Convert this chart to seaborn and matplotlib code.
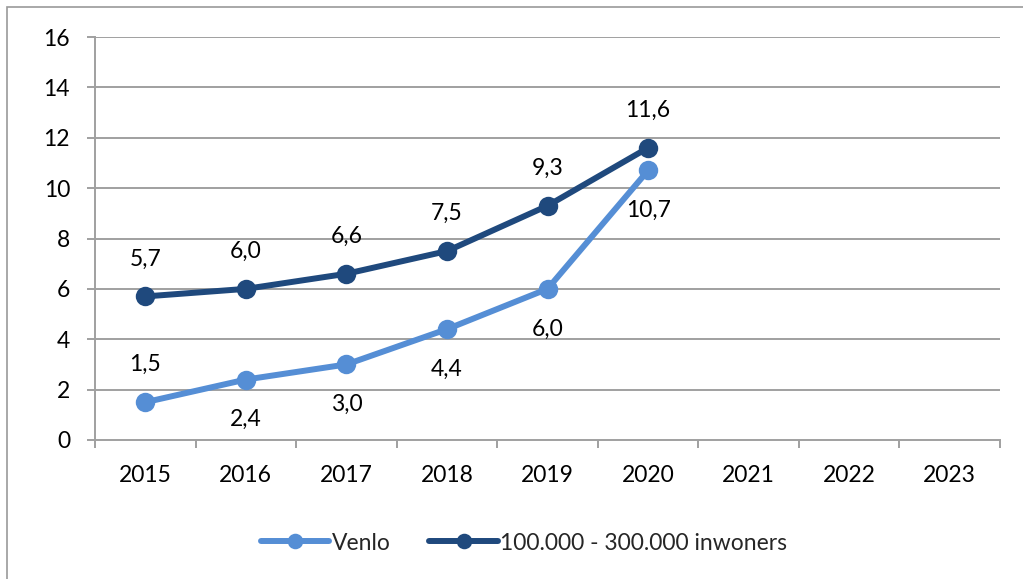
import matplotlib
matplotlib.use("Agg")
import matplotlib.pyplot as plt
import matplotlib.patches as mpatches
import seaborn as sns
import pandas as pd

years = ["2015", "2016", "2017", "2018", "2019", "2020", "2021", "2022", "2023"]
venlo = [1.5, 2.4, 3.0, 4.4, 6.0, 10.7]
middelgroot = [5.7, 6.0, 6.6, 7.5, 9.3, 11.6]
series_names = ["Venlo", "100.000 - 300.000 inwoners"]
# label placement per point: +1 above, -1 below
venlo_label_side = [1, -1, -1, -1, -1, -1]
middelgroot_label_side = [1, 1, 1, 1, 1, 1]
y_ticks = [0, 2, 4, 6, 8, 10, 12, 14, 16]

light_blue = "#558ED5"
dark_blue = "#1F497D"
grid_grey = "#A0A0A0"
FS = 16.5

sns.set_theme(style="white")
plt.rcParams["font.family"] = ["Lato", "DejaVu Sans"]

fig = plt.figure(figsize=(10.23, 5.79), dpi=100)
ax = fig.add_axes([95 / 1023, 1 - 440 / 579, 905 / 1023, 403 / 579])

df = pd.concat([
    pd.DataFrame({"pos": range(len(venlo)), "value": venlo, "serie": series_names[0]}),
    pd.DataFrame({"pos": range(len(middelgroot)), "value": middelgroot, "serie": series_names[1]}),
])

sns.lineplot(data=df, x="pos", y="value", hue="serie",
             palette={series_names[0]: light_blue, series_names[1]: dark_blue},
             marker="o", markersize=14, linewidth=4.3, markeredgewidth=0,
             ax=ax, legend=True)

for vals, sides in [(venlo, venlo_label_side), (middelgroot, middelgroot_label_side)]:
    for i, (v, s) in enumerate(zip(vals, sides)):
        off = 27 if s > 0 else -29
        ax.annotate(f"{v:.1f}".replace(".", ","), (i, v), xytext=(0, off),
                    textcoords="offset points", ha="center", va="center",
                    fontsize=FS, color="black")

ax.set_xlim(-0.5, len(years) - 0.5)
ax.set_ylim(0, 16)
ax.set_yticks(y_ticks)
ax.set_yticklabels([str(t) for t in y_ticks], fontsize=FS, color="black")
ax.set_xticks(range(len(years)))
ax.set_xticklabels(years, fontsize=FS, color="black")
ax.set_xlabel("")
ax.set_ylabel("")

# horizontal gridlines
for t in y_ticks[1:]:
    ax.axhline(t, color=grid_grey, linewidth=1.4, zorder=0)

for side in ["top", "right"]:
    ax.spines[side].set_visible(False)
for side in ["left", "bottom"]:
    ax.spines[side].set_color(grid_grey)
    ax.spines[side].set_linewidth(1.4)

# tick marks: y ticks to the left, x ticks at category boundaries
ax.tick_params(axis="y", which="major", length=6, width=1.4, color=grid_grey, pad=12, left=True)
ax.tick_params(axis="x", which="major", length=0, pad=18)
ax.set_xticks([i - 0.5 for i in range(len(years) + 1)], minor=True)
ax.tick_params(axis="x", which="minor", length=6, width=1.4, color=grid_grey, bottom=True)

handles, labels = ax.get_legend_handles_labels()
ax.legend().remove()
fig.legend(handles, labels, loc="center", bbox_to_anchor=(524 / 1023, 1 - 543 / 579),
           ncol=2, frameon=False, fontsize=FS, handlelength=3.0, handletextpad=0.1,
           columnspacing=1.7, markerscale=0.8)

# chart frame
fig.patches.append(mpatches.Rectangle((7 / 1023, -0.1), 1.2, (579 - 7) / 579 + 0.1,
                                      transform=fig.transFigure, fill=False,
                                      edgecolor="#9A9A9A", linewidth=1.2))

fig.savefig("out.png", dpi=100, facecolor="white")
